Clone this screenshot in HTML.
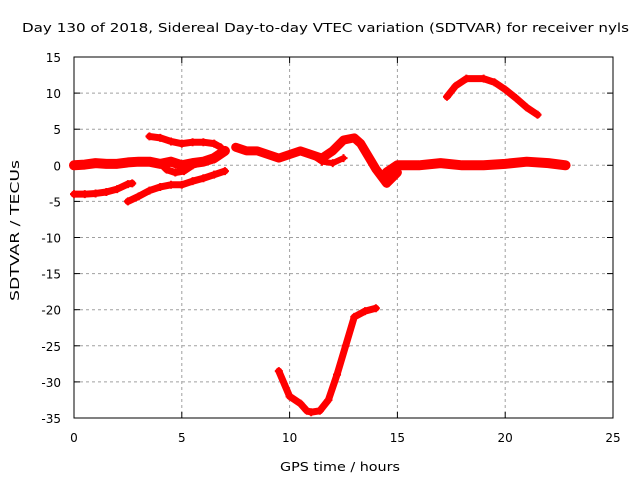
<!DOCTYPE html>
<html><head><meta charset="utf-8"><style>
body{margin:0;background:#fff;}
svg{display:block;font-family:"DejaVu Sans","Liberation Sans",sans-serif;font-size:12px;}
</style></head><body>
<svg id="chart" width="640" height="480">
<text x="22" y="32" textLength="607" lengthAdjust="spacingAndGlyphs">Day 130 of 2018, Sidereal Day-to-day VTEC variation (SDTVAR) for receiver nyls</text>
<text x="280" y="471" textLength="120" lengthAdjust="spacingAndGlyphs">GPS time / hours</text>
<text transform="translate(19,301) rotate(-90)" textLength="141" lengthAdjust="spacingAndGlyphs">SDTVAR / TECUs</text>
<g id="grid"></g><g id="axes"></g><g id="series"></g>
</svg>
<script>
const xTicks=[0,5,10,15,20,25];
const yTicks=[15,10,5,0,-5,-10,-15,-20,-25,-30,-35];
const trackZeroT=[0,0.5,1,1.5,2,2.5,3,3.5,4,4.5,5,5.5,6,6.5,7];
const trackZeroV=[0,0.1,0.3,0.2,0.2,0.4,0.5,0.5,0.2,0.5,0,0.3,0.5,1,2];
const trackUpperT=[3.5,4,4.5,5,5.5,6,6.5,6.8];
const trackUpperV=[4,3.8,3.3,3,3.2,3.2,3,2.5];
const trackMidT=[4,4.3,4.7,5.1,5.5,6,6.5];
const trackMidV=[0.3,-0.6,-1,-0.8,0,0.5,0.8];
const trackLowAT=[0,0.5,1,1.5,2,2.5,2.7];
const trackLowAV=[-4,-4,-3.9,-3.7,-3.3,-2.6,-2.5];
const trackLowBT=[2.5,3,3.5,4,4.5,5,5.5,6,6.5,7];
const trackLowBV=[-5,-4.3,-3.5,-3,-2.7,-2.7,-2.2,-1.8,-1.3,-0.8];
const trackMidDayT=[7.5,8,8.5,9,9.5,10,10.5,11,11.5,12,12.5,13,13.3,13.8,14,14.5,15];
const trackMidDayV=[2.5,2,2,1.5,1,1.5,2,1.5,1,2,3.5,3.8,3,0.5,-0.5,-2.5,-1];
const trackLoopT=[11,11.5,12,12.5];
const trackLoopV=[1.5,0.5,0.3,1];
const trackLateT=[14.5,15,16,17,18,19,20,21,22,22.8];
const trackLateV=[-1,0,0,0.3,0,0,0.2,0.5,0.3,0];
const trackArcT=[17.3,17.7,18.2,19,19.5,20,20.5,21,21.5];
const trackArcV=[9.5,11,12,12,11.5,10.5,9.3,8,7];
const trackDipT=[9.5,10,10.5,10.8,11,11.4,11.8,12.2,12.6,13,13.5,14];
const trackDipV=[-28.5,-32,-33,-34,-34.2,-34,-32.5,-29,-25,-21,-20.2,-19.8];
const tracks=[[trackZeroT,trackZeroV,10],[trackUpperT,trackUpperV,7],[trackMidT,trackMidV,7],[trackLowAT,trackLowAV,7],[trackLowBT,trackLowBV,7],[trackMidDayT,trackMidDayV,9],[trackLoopT,trackLoopV,6],[trackLateT,trackLateV,10],[trackArcT,trackArcV,7],[trackDipT,trackDipV,7]];
const L=74,R=613,T=57,B=418;
const X=h=>L+(h-0)/25*(R-L);
const Y=v=>T+(15-v)/50*(B-T);
const NS="http://www.w3.org/2000/svg";
function mk(tag,attrs,parent){const e=document.createElementNS(NS,tag);for(const k in attrs)e.setAttribute(k,attrs[k]);parent.appendChild(e);return e;}
const grid=document.getElementById('grid'),axes=document.getElementById('axes'),ser=document.getElementById('series');
xTicks.forEach(t=>{
 if(t>0&&t<25){const g=mk('line',{x1:X(t),x2:X(t),y1:T,y2:B,stroke:'#a0a0a0','stroke-dasharray':'3,3'},grid);
 
 }
 mk('line',{x1:X(t),x2:X(t),y1:B,y2:B-6,stroke:'#000'},axes);
 mk('line',{x1:X(t),x2:X(t),y1:T,y2:T+6,stroke:'#000'},axes);
 const tx=mk('text',{x:X(t),y:B+24,'text-anchor':'middle'},axes);tx.textContent=t;
 
 
});
yTicks.forEach(t=>{
 if(t<15&&t>-35){const g=mk('line',{x1:L,x2:R,y1:Y(t),y2:Y(t),stroke:'#a0a0a0','stroke-dasharray':'3,3'},grid);
 
 }
 mk('line',{x1:L,x2:L+6,y1:Y(t),y2:Y(t),stroke:'#000'},axes);
 mk('line',{x1:R,x2:R-6,y1:Y(t),y2:Y(t),stroke:'#000'},axes);
 const tx=mk('text',{x:L-13,y:Y(t)+5,'text-anchor':'end'},axes);tx.textContent=t;
 
 
});
const fr=mk('rect',{x:L,y:T,width:R-L,height:B-T,fill:'none',stroke:'#000'},axes);


tracks.forEach(([ts,vs,w])=>{
 const pts=ts.map((t,i)=>X(t)+','+Y(vs[i])).join(' ');
 const p=mk('polyline',{points:pts,fill:'none',stroke:'#ff0000','stroke-width':w,'stroke-linejoin':'round','stroke-linecap':'round'},ser);
 
 
 ts.forEach((t,i)=>{
  const m=mk('path',{d:`M${X(t)-4},${Y(vs[i])}h8M${X(t)},${Y(vs[i])-4}v8`,stroke:'#ff0000','stroke-width':2},ser);
  
  
 });
});
</script>
</body></html>
